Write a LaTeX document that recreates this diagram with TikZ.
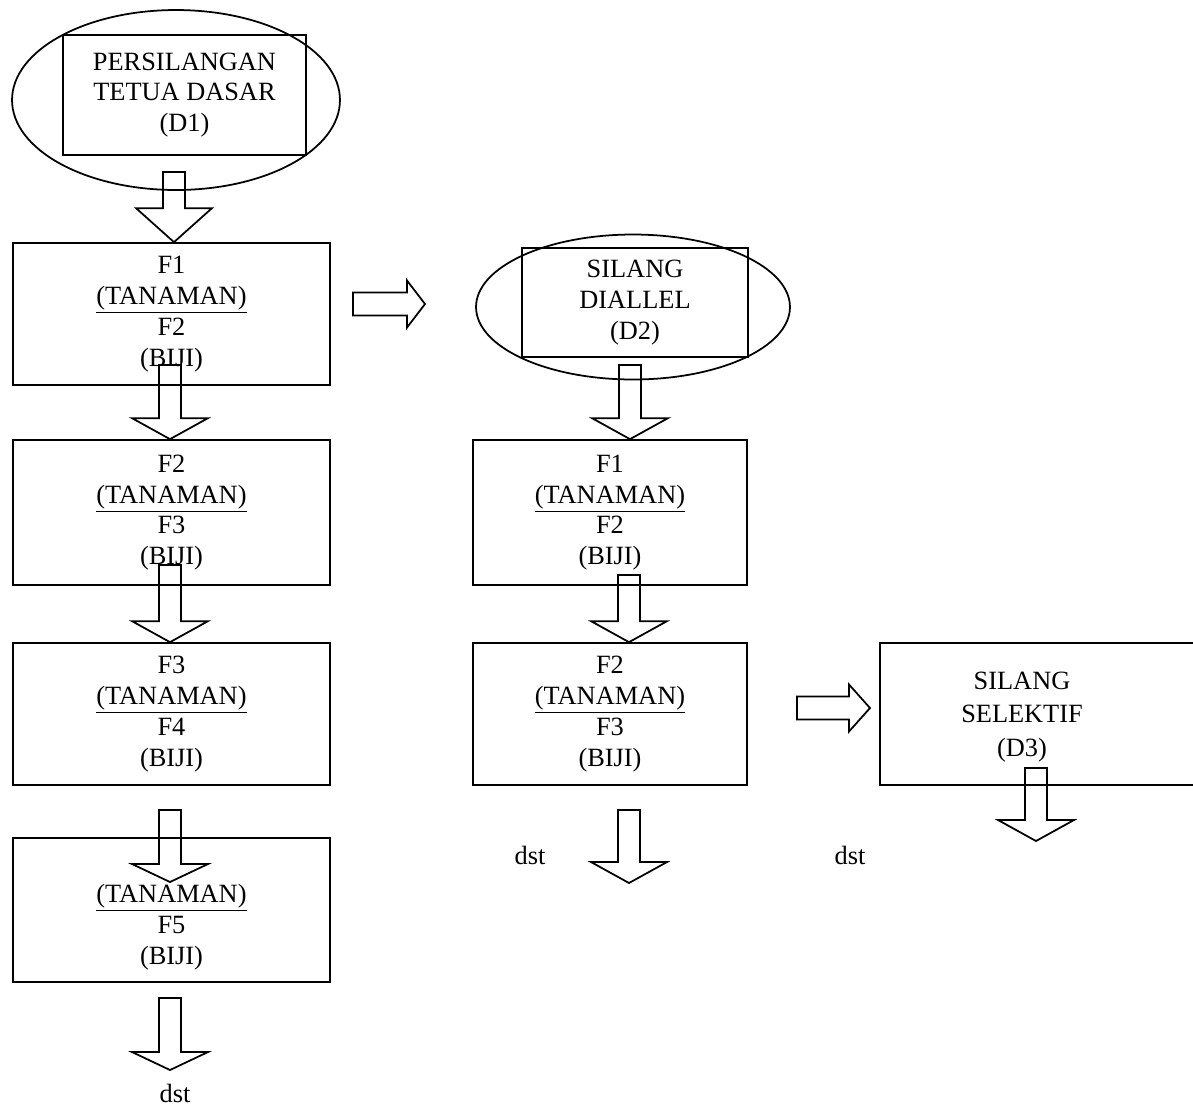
\documentclass[tikz,border=0pt]{standalone}
\usepackage{fontspec}
\setmainfont{Liberation Serif}
\usetikzlibrary{shapes.geometric,calc}

\begin{document}
\begin{tikzpicture}[x=0.02cm,y=-0.02cm,line width=1pt,
  txt/.style={font=\fontsize{15}{17.5}\selectfont,align=center},
  box/.style={txt,draw,minimum width=#1,minimum height=2.84cm,inner sep=0pt},
  box/.default=6.34cm,
  oval/.style={ellipse,draw,inner sep=0pt},
  downblock/.style={to path={let \p1=(\tikztostart),\p2=(\tikztotarget) in
    (\x1-0.22cm,\y1) -- (\x1+0.22cm,\y1) -- (\x1+0.22cm,\y2+#1) -- (\x1+0.76cm,\y2+#1)
    -- (\x1,\y2) -- (\x1-0.76cm,\y2+#1) -- (\x1-0.22cm,\y2+#1) -- cycle}},
  downblock/.default=0.42cm,
  rightblock/.style={to path={let \p1=(\tikztostart),\p2=(\tikztotarget) in
    (\x1,\y1-0.23cm) -- (\x1,\y1+0.23cm) -- (\x2-#1,\y1+0.23cm) -- (\x2-#1,\y1+0.47cm)
    -- (\x2,\y1) -- (\x2-#1,\y1-0.47cm) -- (\x2-#1,\y1-0.23cm) -- cycle}},
  rightblock/.default=0.36cm,
]
\useasboundingbox (0,0) rectangle (1193,1107);
\clip (0,0) rectangle (1193,1107);

% left column
\node[oval,minimum width=6.56cm,minimum height=3.6cm] (e1) at (176,100) {};
\node[box=4.86cm,minimum height=2.4cm] (d1) at (184.5,95) {PERSILANGAN\\TETUA DASAR\\(D1)};
\node[box] (f1l) at (171.5,314) {F1\\\underline{(TANAMAN)}\\F2\\(BIJI)};
\node[box,minimum height=2.9cm] (f2l) at (171.5,512.5) {F2\\\underline{(TANAMAN)}\\F3\\(BIJI)};
\node[box] (f3l) at (171.5,714) {F3\\\underline{(TANAMAN)}\\F4\\(BIJI)};
\node[box,minimum height=2.88cm] (f4l) at (171.5,910) {\strut\\\underline{(TANAMAN)}\\F5\\(BIJI)};
\node[txt] (dst1) at (175,1093) {dst};

% middle column
\node[oval,minimum width=6.28cm,minimum height=2.9cm] (e2) at (633,307) {};
\node[box=4.52cm,minimum height=2.18cm] (d2) at (635,302.5) {SILANG\\DIALLEL\\(D2)};
\node[box=5.48cm,minimum height=2.9cm] (f1r) at (610,512.5) {F1\\\underline{(TANAMAN)}\\F2\\(BIJI)};
\node[box=5.48cm] (f2r) at (610,714) {F2\\\underline{(TANAMAN)}\\F3\\(BIJI)};
\node[txt] (dst2) at (530,855) {dst};

% right column
\node[box=6.4cm] (d3box) at (1040,714) {};
\node[txt,font=\fontsize{15}{19}\selectfont] (d3) at (1022,717) {SILANG\\SELEKTIF\\(D3)};
\node[txt] (dst3) at (850,855) {dst};

\coordinate (a0) at (174,172);
\coordinate (a1) at (170,365);
\coordinate (a2) at (170,565);
\coordinate (a3) at (170,810);
\coordinate (a3e) at (170,882);
\coordinate (a4) at (170,998);
\coordinate (a4e) at (170,1070);
\coordinate (b0) at (630,365);
\coordinate (b1) at (629,575);
\coordinate (b2) at (629,810);
\coordinate (b2e) at (629,883);
\coordinate (c0) at (1036,768);
\coordinate (c0e) at (1036,841);
\coordinate (h1) at (353,304);
\coordinate (h1e) at (425,304);
\coordinate (h2) at (797,708);
\coordinate (h2e) at (870,708);

\draw (a0) to[downblock=0.68cm] (f1l.north);
\draw (a1) to[downblock] (f2l.north);
\draw (a2) to[downblock] (f3l.north);
\draw (a3) to[downblock=0.36cm] (a3e);
\draw (a4) to[downblock=0.36cm] (a4e);
\draw (b0) to[downblock] (f1r.north);
\draw (b1) to[downblock] (f2r.north);
\draw (b2) to[downblock] (b2e);
\draw (c0) to[downblock] (c0e);
\draw (h1) to[rightblock] (h1e);
\draw (h2) to[rightblock=0.42cm] (h2e);
\end{tikzpicture}
\end{document}
